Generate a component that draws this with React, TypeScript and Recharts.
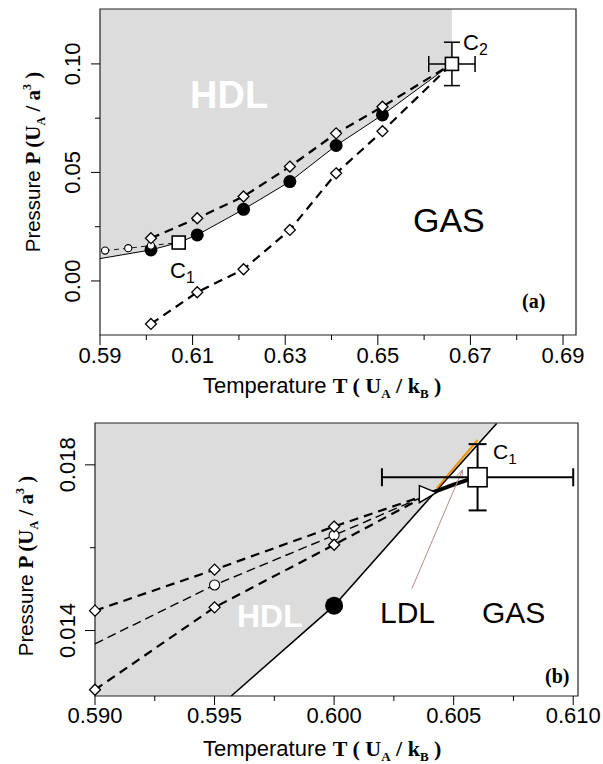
import {
  ComposedChart,
  XAxis,
  YAxis,
  Line,
  Area,
  Scatter,
  ErrorBar,
  ReferenceArea,
  ReferenceLine
} from "recharts";

// ---------- panel (a) ----------
const aXDomain = [0.59, 0.6928];
const aYDomain = [-0.0249, 0.1253];
const aXMajor = [0.59, 0.61, 0.63, 0.65, 0.67, 0.69];
const aXTicks = [0.59, 0.6, 0.61, 0.62, 0.63, 0.64, 0.65, 0.66, 0.67, 0.68, 0.69];
const aYMajor = [0, 0.05, 0.1];
const aYTicks = [0, 0.025, 0.05, 0.075, 0.1];

// coexistence line bounding the HDL region (solid line)
const aBoundary = [
  { t: 0.59, p: 0.0103 },
  { t: 0.601, p: 0.0143 },
  { t: 0.607, p: 0.0177 },
  { t: 0.611, p: 0.0212 },
  { t: 0.621, p: 0.033 },
  { t: 0.631, p: 0.0458 },
  { t: 0.641, p: 0.0624 },
  { t: 0.651, p: 0.0765 },
  { t: 0.666, p: 0.1 }
];
const aFilled = [
  { t: 0.601, p: 0.0143 },
  { t: 0.611, p: 0.0212 },
  { t: 0.621, p: 0.033 },
  { t: 0.631, p: 0.0458 },
  { t: 0.641, p: 0.0624 },
  { t: 0.651, p: 0.0765 }
];
const aUpper = [
  { t: 0.601, p: 0.0197 },
  { t: 0.611, p: 0.0289 },
  { t: 0.621, p: 0.0389 },
  { t: 0.631, p: 0.0527 },
  { t: 0.641, p: 0.068 },
  { t: 0.651, p: 0.0803 },
  { t: 0.666, p: 0.1 }
];
const aLower = [
  { t: 0.601, p: -0.0198 },
  { t: 0.611, p: -0.0052 },
  { t: 0.621, p: 0.0054 },
  { t: 0.631, p: 0.0235 },
  { t: 0.641, p: 0.0496 },
  { t: 0.651, p: 0.069 },
  { t: 0.666, p: 0.1 }
];
const aSmall = [
  { t: 0.5911, p: 0.014 },
  { t: 0.5961, p: 0.0151 },
  { t: 0.601, p: 0.0163 },
  { t: 0.607, p: 0.0177 }
];
const aC1 = [{ t: 0.607, p: 0.0177 }];
const aC2 = [{ t: 0.666, p: 0.1, et: 0.005, ep: 0.01 }];

// ---------- panel (b) ----------
const bXDomain = [0.59, 0.6102];
const bYDomain = [0.01242, 0.01901];
const bXMajor = [0.59, 0.595, 0.6, 0.605, 0.61];
const bXTicks = [0.59, 0.5925, 0.595, 0.5975, 0.6, 0.6025, 0.605, 0.6075, 0.61];
const bYMajor = [0.014, 0.018];
const bYTicks = [0.014, 0.016, 0.018];

const bGray = [
  { t: 0.59, p: 0.01242 },
  { t: 0.5957, p: 0.01242 },
  { t: 0.6, p: 0.0146 },
  { t: 0.604, p: 0.0172 },
  { t: 0.6068, p: 0.019 }
];
const bBoundary = [
  { t: 0.5957, p: 0.01242 },
  { t: 0.6, p: 0.0146 },
  { t: 0.604, p: 0.0172 },
  { t: 0.6068, p: 0.019 }
];
const bUpper = [
  { t: 0.59, p: 0.01448 },
  { t: 0.595, p: 0.01547 },
  { t: 0.6, p: 0.01651 },
  { t: 0.604, p: 0.0173 }
];
const bMid = [
  { t: 0.59, p: 0.01368 },
  { t: 0.595, p: 0.0151 },
  { t: 0.6, p: 0.0163 },
  { t: 0.604, p: 0.0173 }
];
const bLower = [
  { t: 0.59, p: 0.01257 },
  { t: 0.595, p: 0.01456 },
  { t: 0.6, p: 0.01607 },
  { t: 0.604, p: 0.0173 }
];
const bFilled = [{ t: 0.6, p: 0.0146 }];
const bTriangle = [{ t: 0.6039, p: 0.01728 }];
const bThick = [
  { t: 0.6041, p: 0.01733 },
  { t: 0.605, p: 0.01752 },
  { t: 0.6059, p: 0.0177 }
];
const bC1 = [{ t: 0.606, p: 0.0177, et: 0.004, ep: 0.0008 }];
const bOrange = [
  { t: 0.6043, p: 0.01744 },
  { t: 0.606, p: 0.0186 }
];
const bArrow = [
  { t: 0.60325, p: 0.01501 },
  { t: 0.60537, p: 0.01788 }
];

const SANS = "'Liberation Sans', Arial, Helvetica, sans-serif";
const SERIF = "'Liberation Serif', 'Times New Roman', serif";

const isMajor = (list: number[], v: number) => list.some((m) => Math.abs(m - v) < 1e-9);

const makeXTick = (major: number[], digits: number, len: number, base: number) => (props: any) => {
  const { x, y, payload } = props;
  const big = isMajor(major, payload.value);
  return (
    <g>
      <line x1={x} x2={x} y1={y} y2={y + (big ? len : 5)} stroke="#000" strokeWidth={1} />
      {big && (
        <text x={x} y={y + base} textAnchor="middle" fontSize={22} fontFamily={SANS} fill="#000">
          {payload.value.toFixed(digits)}
        </text>
      )}
    </g>
  );
};

const makeYTick = (major: number[], digits: number, len: number, off: number) => (props: any) => {
  const { x, y, payload } = props;
  const big = isMajor(major, payload.value);
  const tx = x - off;
  return (
    <g>
      <line x1={x} x2={x - (big ? len : 5)} y1={y} y2={y} stroke="#000" strokeWidth={1} />
      {big && (
        <text
          x={tx}
          y={y}
          transform={`rotate(-90 ${tx} ${y})`}
          textAnchor="middle"
          fontSize={22}
          fontFamily={SANS}
          fill="#000"
        >
          {payload.value.toFixed(digits)}
        </text>
      )}
    </g>
  );
};

const diamondDot = (r: number, skip: number[]) => (props: any) => {
  const { cx, cy, index } = props;
  if (cx == null || skip.includes(index)) return <g key={`d${index}`} />;
  return (
    <path
      key={`d${index}`}
      d={`M${cx},${cy - r}L${cx + r},${cy}L${cx},${cy + r}L${cx - r},${cy}Z`}
      fill="#fff"
      stroke="#000"
      strokeWidth={1.3}
    />
  );
};

const circleDot = (r: number, skip: number[]) => (props: any) => {
  const { cx, cy, index } = props;
  if (cx == null || skip.includes(index)) return <g key={`c${index}`} />;
  return <circle key={`c${index}`} cx={cx} cy={cy} r={r} fill="#fff" stroke="#000" strokeWidth={1.1} />;
};

const squareShape = (s: number) => (props: any) => {
  const { cx, cy } = props;
  return <rect x={cx - s / 2} y={cy - s / 2} width={s} height={s} fill="#fff" stroke="#000" strokeWidth={1.6} />;
};

const filledShape = (r: number) => (props: any) => {
  const { cx, cy } = props;
  return <circle cx={cx} cy={cy} r={r} fill="#000" />;
};

const triangleShape = (props: any) => {
  const { cx, cy } = props;
  return (
    <path
      d={`M${cx - 8},${cy - 9}L${cx + 9},${cy - 2}L${cx - 8},${cy + 8}Z`}
      fill="#fff"
      stroke="#000"
      strokeWidth={1.4}
    />
  );
};

const arrowShape = (props: any) => {
  const { x1, y1, x2, y2 } = props;
  const a = Math.atan2(y2 - y1, x2 - x1);
  const h = 9;
  const w = 0.35;
  const p1 = `${x2 - h * Math.cos(a - w)},${y2 - h * Math.sin(a - w)}`;
  const p2 = `${x2 - h * Math.cos(a + w)},${y2 - h * Math.sin(a + w)}`;
  return (
    <g>
      <line x1={x1} y1={y1} x2={x2} y2={y2} stroke="#b98c8c" strokeWidth={1} />
      <path d={`M${p1}L${x2},${y2}L${p2}`} fill="none" stroke="#b98c8c" strokeWidth={1} />
    </g>
  );
};

function PanelA() {
  const top = aYDomain[1];
  return (
    <ComposedChart width={603} height={380} data={aBoundary} margin={{ top: 9, right: 27, bottom: 0, left: 0 }}>
      <XAxis
        type="number"
        dataKey="t"
        domain={aXDomain}
        ticks={aXTicks}
        interval={0}
        axisLine={false}
        tickLine={false}
        tickSize={0}
        tickMargin={0}
        height={45}
        tick={makeXTick(aXMajor, 2, 10, 28)}
      />
      <YAxis
        type="number"
        domain={aYDomain}
        ticks={aYTicks}
        interval={0}
        axisLine={false}
        tickLine={false}
        tickSize={0}
        tickMargin={0}
        width={100}
        tick={makeYTick(aYMajor, 2, 9, 20)}
      />
      <Area
        type="linear"
        dataKey={(d: any) => [d.p, top]}
        fill="#dcdcdc"
        fillOpacity={1}
        stroke="none"
        isAnimationActive={false}
      />
      <Line type="linear" dataKey="p" stroke="#000" strokeWidth={1} dot={false} isAnimationActive={false} />
      <Line
        data={aSmall}
        type="linear"
        dataKey="p"
        stroke="#000"
        strokeWidth={0.9}
        strokeDasharray="5 4"
        dot={circleDot(3.6, [aSmall.length - 1])}
        isAnimationActive={false}
      />
      <Line
        data={aUpper}
        type="linear"
        dataKey="p"
        stroke="#000"
        strokeWidth={2.2}
        strokeDasharray="9 6"
        dot={diamondDot(5.5, [aUpper.length - 1])}
        isAnimationActive={false}
      />
      <Line
        data={aLower}
        type="linear"
        dataKey="p"
        stroke="#000"
        strokeWidth={2.2}
        strokeDasharray="9 6"
        dot={diamondDot(5.5, [aLower.length - 1])}
        isAnimationActive={false}
      />
      <Scatter data={aFilled} dataKey="p" shape={filledShape(6.5)} isAnimationActive={false} />
      <Scatter data={aC1} dataKey="p" shape={squareShape(13)} isAnimationActive={false} />
      <Scatter data={aC2} dataKey="p" shape={squareShape(13)} isAnimationActive={false}>
        <ErrorBar dataKey="et" direction="x" width={8} stroke="#000" strokeWidth={1.5} />
        <ErrorBar dataKey="ep" direction="y" width={8} stroke="#000" strokeWidth={1.5} />
      </Scatter>
      <ReferenceArea
        x1={aXDomain[0]}
        x2={aXDomain[1]}
        y1={aYDomain[0]}
        y2={aYDomain[1]}
        fill="none"
        fillOpacity={0}
        stroke="#222"
        strokeWidth={1.2}
        ifOverflow="visible"
      />
    </ComposedChart>
  );
}

function PanelB() {
  const top = bYDomain[1];
  return (
    <ComposedChart width={603} height={364} data={bGray} margin={{ top: 23, right: 25, bottom: 0, left: 0 }}>
      <XAxis
        type="number"
        dataKey="t"
        domain={bXDomain}
        ticks={bXTicks}
        interval={0}
        axisLine={false}
        tickLine={false}
        tickSize={0}
        tickMargin={0}
        height={68}
        tick={makeXTick(bXMajor, 3, 9, 27)}
      />
      <YAxis
        type="number"
        domain={bYDomain}
        ticks={bYTicks}
        interval={0}
        axisLine={false}
        tickLine={false}
        tickSize={0}
        tickMargin={0}
        width={95}
        tick={makeYTick(bYMajor, 3, 10, 20)}
      />
      <Area
        type="linear"
        dataKey={(d: any) => [d.p, top]}
        fill="#dcdcdc"
        fillOpacity={1}
        stroke="none"
        isAnimationActive={false}
      />
      <Line data={bBoundary} type="linear" dataKey="p" stroke="#000" strokeWidth={1.6} dot={false} isAnimationActive={false} />
      <Line
        data={bMid}
        type="linear"
        dataKey="p"
        stroke="#000"
        strokeWidth={1.4}
        strokeDasharray="9 5"
        dot={circleDot(5, [0, bMid.length - 1])}
        isAnimationActive={false}
      />
      <Line
        data={bUpper}
        type="linear"
        dataKey="p"
        stroke="#000"
        strokeWidth={2.2}
        strokeDasharray="9 6"
        dot={diamondDot(5.5, [bUpper.length - 1])}
        isAnimationActive={false}
      />
      <Line
        data={bLower}
        type="linear"
        dataKey="p"
        stroke="#000"
        strokeWidth={2.2}
        strokeDasharray="9 6"
        dot={diamondDot(5.5, [bLower.length - 1])}
        isAnimationActive={false}
      />
      <Line data={bThick} type="monotone" dataKey="p" stroke="#000" strokeWidth={4} dot={false} isAnimationActive={false} />
      <Scatter data={bFilled} dataKey="p" shape={filledShape(9)} isAnimationActive={false} />
      <Scatter data={bTriangle} dataKey="p" shape={triangleShape} isAnimationActive={false} />
      <ReferenceLine
        segment={[
          { x: bOrange[0].t, y: bOrange[0].p },
          { x: bOrange[1].t, y: bOrange[1].p }
        ]}
        stroke="#f39200"
        strokeWidth={2}
        ifOverflow="visible"
      />
      <ReferenceLine
        segment={[
          { x: bArrow[0].t, y: bArrow[0].p },
          { x: bArrow[1].t, y: bArrow[1].p }
        ]}
        stroke="#b98c8c"
        shape={arrowShape}
        ifOverflow="visible"
      />
      <Scatter data={bC1} dataKey="p" shape={squareShape(19)} isAnimationActive={false}>
        <ErrorBar dataKey="et" direction="x" width={9} stroke="#000" strokeWidth={2} />
        <ErrorBar dataKey="ep" direction="y" width={9} stroke="#000" strokeWidth={2} />
      </Scatter>
      <ReferenceArea
        x1={bXDomain[0]}
        x2={bXDomain[1]}
        y1={bYDomain[0]}
        y2={bYDomain[1]}
        fill="none"
        fillOpacity={0}
        stroke="#222"
        strokeWidth={1.2}
        ifOverflow="visible"
      />
    </ComposedChart>
  );
}

function XTitle({ x, y }: { x: number; y: number }) {
  return (
    <text x={x} y={y} fontSize={22} fill="#000">
      <tspan fontFamily={SANS}>Temperature </tspan>
      <tspan fontFamily={SERIF} fontWeight="bold"> T ( U</tspan>
      <tspan fontFamily={SERIF} fontWeight="bold" fontSize={13} dy={5}>A</tspan>
      <tspan fontFamily={SERIF} fontWeight="bold" dy={-5}> / k</tspan>
      <tspan fontFamily={SERIF} fontWeight="bold" fontSize={13} dy={5}>B</tspan>
      <tspan fontFamily={SERIF} fontWeight="bold" dy={-5}> )</tspan>
    </text>
  );
}

function YTitle({ x, y }: { x: number; y: number }) {
  return (
    <text x={x} y={y} fontSize={21} fill="#000" textAnchor="middle" transform={`rotate(-90 ${x} ${y})`}>
      <tspan fontFamily={SANS} fontSize={20.5}>Pressure </tspan>
      <tspan fontFamily={SERIF} fontWeight="bold">P (U</tspan>
      <tspan fontFamily={SERIF} fontWeight="bold" fontSize={12} dy={5}>A</tspan>
      <tspan fontFamily={SERIF} fontWeight="bold" dy={-5}> / a</tspan>
      <tspan fontFamily={SERIF} fontWeight="bold" fontSize={12} dy={-9}>3</tspan>
      <tspan fontFamily={SERIF} fontWeight="bold" dy={9}> )</tspan>
    </text>
  );
}

function Sub({ x, y, main, sub, size }: { x: number; y: number; main: string; sub: string; size: number }) {
  return (
    <text x={x} y={y} fontSize={size} fontFamily={SANS} fill="#000">
      {main}
      <tspan fontSize={size * 0.72} dy={5}>{sub}</tspan>
    </text>
  );
}

export default function App() {
  return (
    <div style={{ position: "absolute", left: 0, top: 0, width: 603, height: 764, background: "#fff" }}>
      <div style={{ position: "absolute", left: 0, top: 0 }}>
        <PanelA />
      </div>
      <div style={{ position: "absolute", left: 0, top: 400 }}>
        <PanelB />
      </div>
      <svg width={603} height={764} style={{ position: "absolute", left: 0, top: 0, pointerEvents: "none" }}>
        {/* panel (a) annotations */}
        <text x={190} y={108} fontSize={38} fontWeight="bold" fontFamily={SANS} fill="#fff">HDL</text>
        <text x={413} y={232} fontSize={34} fontFamily={SANS} fill="#000">GAS</text>
        <Sub x={170} y={278} main="C" sub="1" size={22} />
        <Sub x={463} y={50} main="C" sub="2" size={22} />
        <text x={522} y={308} fontSize={20} fontWeight="bold" fontFamily={SERIF} fill="#000">(a)</text>
        <XTitle x={203} y={393} />
        <YTitle x={40} y={162} />

        {/* panel (b) annotations */}
        <text x={237} y={627} fontSize={32} fontWeight="bold" fontFamily={SANS} fill="#fff">HDL</text>
        <text x={380} y={623} fontSize={30} fontFamily={SANS} fill="#000">LDL</text>
        <text x={482} y={623} fontSize={30} fontFamily={SANS} fill="#000">GAS</text>
        <Sub x={493} y={459} main="C" sub="1" size={21} />
        <text x={545} y={683} fontSize={20} fontWeight="bold" fontFamily={SERIF} fill="#000">(b)</text>
        <XTitle x={203} y={756} />
        <YTitle x={33} y={566} />
      </svg>
    </div>
  );
}
